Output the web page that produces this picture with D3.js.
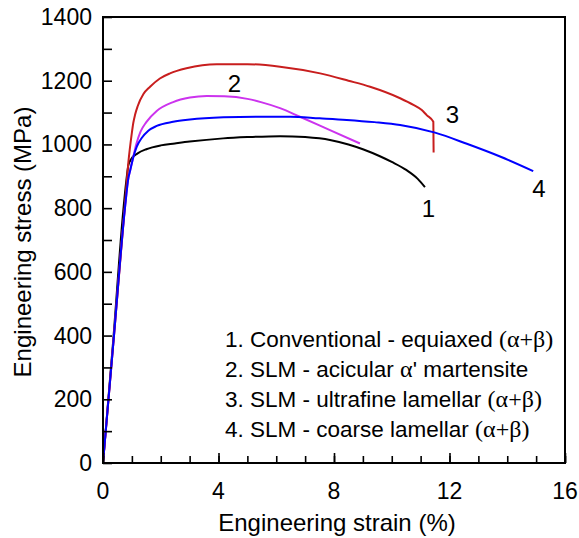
<!DOCTYPE html>
<html><head><meta charset="utf-8">
<script src="https://cdn.jsdelivr.net/npm/d3@7"></script>
<style>html,body{margin:0;padding:0;background:#fff;}</style>
</head><body>
<svg id="c" width="579" height="538"></svg>
<script>
// ---- data ----
const strain1 = [0, 0.35, 0.70, 0.80, 0.88, 0.99, 1.2, 1.5, 2.0, 2.49, 3.0, 4.16, 5.0, 6.13, 7.0, 7.86, 8.5, 9.0, 9.59, 10.0, 10.5, 10.9, 11.15];
const stress1 = [0, 380, 790, 880, 935, 956, 972, 985, 997, 1003, 1009, 1019, 1023, 1026, 1023, 1014, 1000, 985, 963, 945, 920, 892, 866];
const strain2 = [0, 0.38, 0.76, 0.88, 0.94, 1.05, 1.15, 1.3, 1.5, 1.86, 2.43, 3.01, 3.59, 4.2, 5.0, 5.5, 6.13, 6.82, 7.86, 8.9];
const stress2 = [0, 400, 800, 895, 918, 962, 1000, 1040, 1070, 1105, 1133, 1147, 1152, 1151, 1143, 1132, 1114, 1087, 1045, 1003];
const strain3 = [0, 0.38, 0.76, 0.88, 0.99, 1.05, 1.11, 1.2, 1.4, 1.63, 1.97, 2.32, 2.89, 3.94, 5.0, 6.13, 7.52, 8.5, 9.25, 10.29, 10.75, 11.04, 11.21, 11.44, 11.45];
const stress3 = [0, 400, 810, 945, 1030, 1068, 1093, 1120, 1158, 1181, 1207, 1223, 1239, 1252, 1252, 1244, 1223, 1200, 1181, 1145, 1124, 1108, 1092, 1071, 975];
const strain4 = [0, 0.38, 0.76, 0.88, 0.94, 1.05, 1.17, 1.34, 1.57, 1.86, 2.43, 3.01, 4.17, 5.32, 6.48, 7.5, 8.44, 9.4, 10.29, 11.5, 12.6, 13.75, 14.9];
const stress4 = [0, 400, 800, 895, 918, 960, 993, 1020, 1043, 1058, 1071, 1078, 1085, 1087, 1087, 1082, 1077, 1070, 1061, 1037, 1002, 962, 916];

const curveIds = ["1", "2", "3", "4"];
const curveColors = ["#000000", "#cc33ee", "#c81e1e", "#0000ff"];
const curveLabelPos = [[11.27, 772], [4.55, 1165], [12.1, 1067], [15.1, 836]];

const xTicks = [0, 4, 8, 12, 16];
const yTicks = [0, 200, 400, 600, 800, 1000, 1200, 1400];

const legendLines = [
  ["1. Conventional - equiaxed ", "(\u03b1+\u03b2)", ""],
  ["2. SLM - acicular ", "\u03b1", "' martensite"],
  ["3. SLM - ultrafine lamellar ", "(\u03b1+\u03b2)", ""],
  ["4. SLM - coarse lamellar ", "(\u03b1+\u03b2)", ""]
];
const xTitle = "Engineering strain (%)";
const yTitle = "Engineering stress (MPa)";

// ---- layout ----
const L = 103, R = 565, T = 17, B = 463;
const svg = d3.select("#c");
const x = d3.scaleLinear().domain([0, 16]).range([L, R]);
const y = d3.scaleLinear().domain([0, 1400]).range([B, T]);
const sans = "Liberation Sans, Arial, sans-serif";
const serif = "Liberation Serif, Times New Roman, serif";

// curves
const series = [[strain1, stress1], [strain2, stress2], [strain3, stress3], [strain4, stress4]];
const line = d3.line().x(d => x(d[0])).y(d => y(d[1])).curve(d3.curveMonotoneX);
series.forEach((s, i) => {
  const pts = s[0].map((v, k) => [v, s[1][k]]);
  svg.append("path").attr("d", line(pts)).attr("fill", "none")
    .attr("stroke", curveColors[i]).attr("stroke-width", 2).attr("stroke-linejoin", "round");
});

// axes: ticks (inward)
const gx = svg.append("g").attr("transform", `translate(0,${B})`)
  .call(d3.axisTop(x).tickValues(d3.range(0, 17, 1)).tickSize(7).tickFormat(""));
const gxMaj = svg.append("g").attr("transform", `translate(0,${B})`)
  .call(d3.axisTop(x).tickValues(xTicks).tickSize(10).tickFormat(""));
const gy = svg.append("g").attr("transform", `translate(${L},0)`)
  .call(d3.axisRight(y).tickValues(d3.range(0, 1401, 100)).tickSize(9).tickFormat(""));
[gx, gxMaj, gy].forEach(g => {
  g.select(".domain").remove();
  g.selectAll("line").attr("stroke", "#000").attr("stroke-width", 1.6);
});
// frame
svg.append("rect").attr("x", L).attr("y", T).attr("width", R - L).attr("height", B - T)
  .attr("fill", "none").attr("stroke", "#000").attr("stroke-width", 2);

// tick labels
svg.append("g").selectAll("text").data(xTicks).join("text")
  .attr("x", d => x(d)).attr("y", 499).attr("text-anchor", "middle")
  .attr("font-family", sans).attr("font-size", 23).text(d => d);
svg.append("g").selectAll("text").data(yTicks).join("text")
  .attr("x", 92).attr("y", d => y(d) + 8).attr("text-anchor", "end")
  .attr("font-family", sans).attr("font-size", 23).text(d => d);

// axis titles
svg.append("text").attr("x", 337).attr("y", 531).attr("text-anchor", "middle")
  .attr("font-family", sans).attr("font-size", 24).text(xTitle);
svg.append("text").attr("transform", `translate(31,${(T + B) / 2 + 2}) rotate(-90)`)
  .attr("text-anchor", "middle").attr("font-family", sans).attr("font-size", 24).text(yTitle);

// curve labels
svg.append("g").selectAll("text").data(curveIds).join("text")
  .attr("x", (d, i) => x(curveLabelPos[i][0])).attr("y", (d, i) => y(curveLabelPos[i][1]))
  .attr("text-anchor", "middle").attr("font-family", sans).attr("font-size", 24).text(d => d);

// legend
const lg = svg.append("g");
legendLines.forEach((ln, i) => {
  const t = lg.append("text").attr("x", 225).attr("y", 347 + i * 30)
    .attr("font-family", sans).attr("font-size", 22.5);
  t.append("tspan").text(ln[0]);
  t.append("tspan").attr("font-family", serif).attr("font-size", 24).text(ln[1]);
  if (ln[2]) t.append("tspan").text(ln[2]);
});
</script>
</body></html>
